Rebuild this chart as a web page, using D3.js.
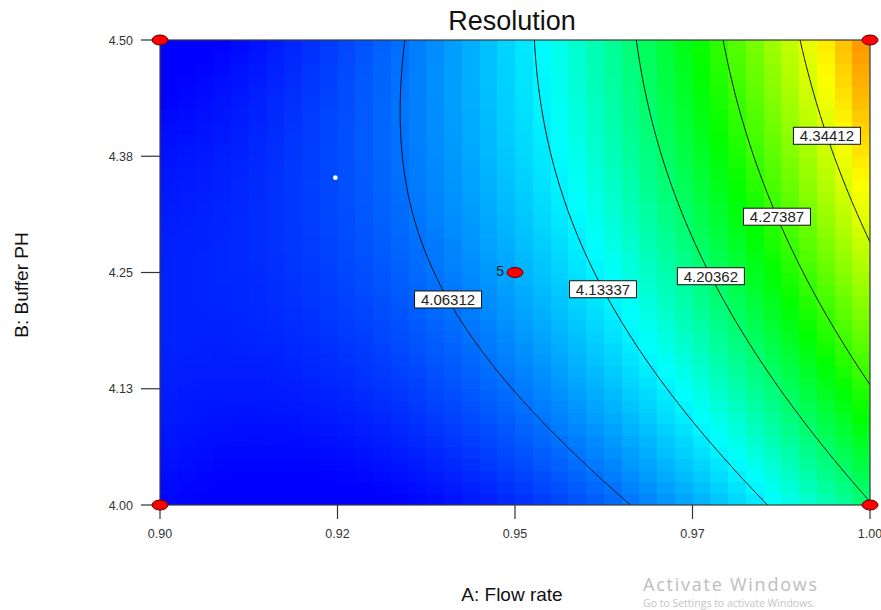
<!DOCTYPE html>
<html>
<head>
<meta charset="utf-8">
<script src="https://cdn.jsdelivr.net/npm/d3@7"></script>
<style>
  body { margin: 0; background: #fff; }
  svg { display: block; }
</style>
</head>
<body>
<script>
// ---- Factor ranges and axis ticks ----
const flowRange = [0.90, 1.00];          // A: Flow rate
const phRange = [4.00, 4.50];            // B: Buffer PH
const xTickValues = [0.90, 0.925, 0.95, 0.975, 1.00];
const xTickLabels = ["0.90", "0.92", "0.95", "0.97", "1.00"];
const yTickValues = [4.00, 4.125, 4.25, 4.375, 4.50];
const yTickLabels = ["4.00", "4.13", "4.25", "4.38", "4.50"];

// ---- Fitted quadratic model for Resolution, coded factors ----
// terms: intercept, A, B, AB, A^2, B^2
const modelCoefs = [4.0945, 0.156, 0.0495, 0.057, 0.08, -0.0225];

// ---- Contour levels and the buffer PH at which each label sits ----
const contourLevels = [4.06312, 4.13337, 4.20362, 4.27387, 4.34412];
const contourLabelPH = [4.221, 4.232, 4.246, 4.310, 4.397];

// ---- Design points (factorial corners + centre replicates) ----
const designFlow = [0.90, 0.90, 1.00, 1.00, 0.95];
const designPH = [4.00, 4.50, 4.00, 4.50, 4.25];
const designReps = [1, 1, 1, 1, 5];
const flagPoint = [0.9247, 4.352];

// ---- Colour ramp for the response ----
const colorValues = [4.00, 4.14, 4.25, 4.36, 4.47];
const colorRange = ["#0000ff", "#00ffff", "#00ff00", "#ffff00", "#ff0000"];
const gridCells = 40;

(function draw() {
  // ---- Layout ----
  const W = 881, H = 610;
  const pl = 160, pr = 870, pt = 40, pb = 505;
  const font = "'Liberation Sans', Arial, sans-serif";

  const svg = d3.select("body").append("svg").attr("width", W).attr("height", H);

  const x = d3.scaleLinear().domain(flowRange).range([pl, pr]);
  const y = d3.scaleLinear().domain(phRange).range([pb, pt]);
  const color = d3.scaleLinear().domain(colorValues).range(colorRange).clamp(true);

  const codeA = A => (A - 0.95) / 0.05;
  const codeB = B => (B - 4.25) / 0.25;
  const [b0, bA, bB, bAB, bAA, bBB] = modelCoefs;
  const model = (a, b) => b0 + bA * a + bB * b + bAB * a * b + bAA * a * a + bBB * b * b;

  // Clip region for the plot area
  svg.append("defs").append("clipPath").attr("id", "plotClip")
    .append("rect").attr("x", pl).attr("y", pt)
    .attr("width", pr - pl).attr("height", pb - pt);

  // ---- Colour cells ----
  const cells = [];
  const dA = (flowRange[1] - flowRange[0]) / gridCells;
  const dB = (phRange[1] - phRange[0]) / gridCells;
  for (let i = 0; i < gridCells; i++) {
    for (let j = 0; j < gridCells; j++) {
      const A0 = flowRange[0] + i * dA, B0 = phRange[0] + j * dB;
      cells.push({ A0, A1: A0 + dA, B0, B1: B0 + dB,
        v: model(codeA(A0 + dA / 2), codeB(B0 + dB / 2)) });
    }
  }
  svg.append("g").attr("clip-path", "url(#plotClip)")
    .selectAll("rect").data(cells).join("rect")
    .attr("x", d => x(d.A0))
    .attr("y", d => y(d.B1))
    .attr("width", d => x(d.A1) - x(d.A0) + 0.6)
    .attr("height", d => y(d.B0) - y(d.B1) + 0.6)
    .attr("fill", d => color(d.v))
    .attr("shape-rendering", "crispEdges");

  // ---- Contour lines ----
  const n = 221, step = 0.01, c0 = -1.1;
  const values = new Array(n * n);
  for (let j = 0; j < n; j++)
    for (let i = 0; i < n; i++)
      values[j * n + i] = model(c0 + i * step, c0 + j * step);

  const contours = d3.contours().size([n, n]).thresholds(contourLevels)(values);
  const proj = d3.geoTransform({
    point: function (px, py) {
      const a = c0 + (px - 0.5) * step, b = c0 + (py - 0.5) * step;
      this.stream.point(x(0.95 + 0.05 * a), y(4.25 + 0.25 * b));
    }
  });
  const path = d3.geoPath(proj);
  svg.append("g").attr("clip-path", "url(#plotClip)")
    .selectAll("path").data(contours).join("path")
    .attr("d", path)
    .attr("fill", "none")
    .attr("stroke", "#111")
    .attr("stroke-width", 1);

  // ---- Plot frame ----
  svg.append("rect")
    .attr("x", pl).attr("y", pt)
    .attr("width", pr - pl).attr("height", pb - pt)
    .attr("fill", "none").attr("stroke", "#3a3a3a").attr("stroke-width", 1.2);

  // ---- Contour labels: placed where each level crosses its label PH ----
  const labels = contourLevels.map((lev, k) => {
    const b = codeB(contourLabelPH[k]);
    const qa = bAA, qb = bA + bAB * b, qc = b0 + bB * b + bBB * b * b - lev;
    const a = (-qb + Math.sqrt(qb * qb - 4 * qa * qc)) / (2 * qa);
    return { lev, A: 0.95 + 0.05 * a, B: contourLabelPH[k] };
  });
  const lg = svg.append("g").selectAll("g").data(labels).join("g")
    .attr("transform", d => `translate(${x(d.A)},${y(d.B)})`);
  lg.append("rect")
    .attr("x", -33.5).attr("y", -8.5).attr("width", 67).attr("height", 17)
    .attr("fill", "#fff").attr("stroke", "#111").attr("stroke-width", 1);
  lg.append("text")
    .attr("text-anchor", "middle").attr("y", 5.5)
    .attr("font-family", font).attr("font-size", 15).attr("fill", "#222")
    .text(d => d.lev.toFixed(5));

  // ---- Axes ----
  const xAxis = svg.append("g");
  xAxis.selectAll("line").data(xTickValues).join("line")
    .attr("x1", d => x(d)).attr("x2", d => x(d))
    .attr("y1", pb).attr("y2", pb + 14)
    .attr("stroke", "#333").attr("stroke-width", 1.2);
  xAxis.selectAll("text").data(xTickValues).join("text")
    .attr("x", d => x(d)).attr("y", 538)
    .attr("text-anchor", "middle")
    .attr("font-family", font).attr("font-size", 12.5).attr("fill", "#333")
    .text((d, i) => xTickLabels[i]);

  const yAxis = svg.append("g");
  yAxis.selectAll("line").data(yTickValues).join("line")
    .attr("x1", pl - 19).attr("x2", pl)
    .attr("y1", d => y(d)).attr("y2", d => y(d))
    .attr("stroke", "#333").attr("stroke-width", 1.2);
  yAxis.selectAll("text").data(yTickValues).join("text")
    .attr("x", 133).attr("y", d => y(d) + 4.5)
    .attr("text-anchor", "end")
    .attr("font-family", font).attr("font-size", 12.5).attr("fill", "#333")
    .text((d, i) => yTickLabels[i]);

  // ---- Design points ----
  const pts = designFlow.map((A, i) => ({ A, B: designPH[i], r: designReps[i] }));
  svg.append("g").selectAll("ellipse").data(pts).join("ellipse")
    .attr("cx", d => x(d.A)).attr("cy", d => y(d.B))
    .attr("rx", 8).attr("ry", 5)
    .attr("fill", "#ff0000").attr("stroke", "#5a0000").attr("stroke-width", 1);
  svg.append("g").selectAll("text").data(pts.filter(d => d.r > 1)).join("text")
    .attr("x", d => x(d.A) - 11).attr("y", d => y(d.B) + 3)
    .attr("text-anchor", "end")
    .attr("font-family", font).attr("font-size", 14).attr("fill", "#0b2222")
    .text(d => d.r);

  svg.append("circle")
    .attr("cx", x(flagPoint[0])).attr("cy", y(flagPoint[1])).attr("r", 2.3)
    .attr("fill", "#ffffff");

  // ---- Titles ----
  svg.append("text").attr("x", 512).attr("y", 30).attr("text-anchor", "middle")
    .attr("font-family", font).attr("font-size", 27).attr("fill", "#111")
    .text("Resolution");
  svg.append("text").attr("x", 512).attr("y", 601).attr("text-anchor", "middle")
    .attr("font-family", font).attr("font-size", 19).attr("fill", "#111")
    .text("A: Flow rate");
  svg.append("text").attr("transform", "translate(28,285) rotate(-90)")
    .attr("text-anchor", "middle")
    .attr("font-family", font).attr("font-size", 19).attr("fill", "#111")
    .text("B: Buffer PH");

  // ---- System watermark ----
  svg.append("text").attr("x", 643).attr("y", 591)
    .attr("font-family", "'Open Sans', 'Noto Sans', sans-serif").attr("font-size", 18)
    .attr("fill", "#bdbdbd").attr("textLength", 174)
    .text("Activate Windows");
  svg.append("text").attr("x", 643).attr("y", 607)
    .attr("font-family", "'Open Sans', 'Noto Sans', sans-serif").attr("font-size", 10.5)
    .attr("fill", "#c4c4c4")
    .text("Go to Settings to activate Windows.");
})();
</script>
</body>
</html>
